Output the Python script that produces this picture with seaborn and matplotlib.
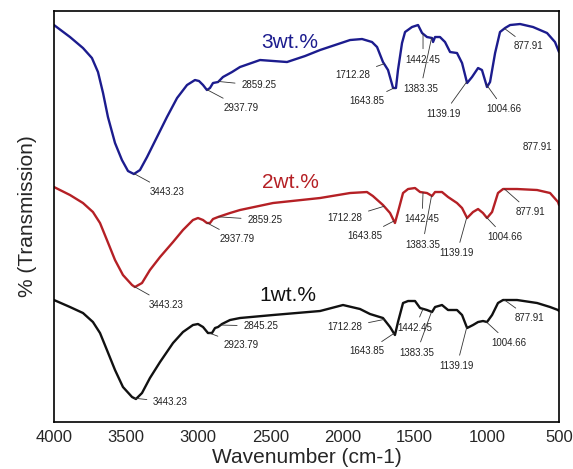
"""
FTIR spectra of 1, 2 and 3 wt.% samples
"""

import matplotlib
matplotlib.use('Agg')
import matplotlib.pyplot as plt
import seaborn as sns
import numpy as np
import pandas as pd

sns.set_style('white')
plt.rcParams['font.family'] = ['Liberation Sans', 'DejaVu Sans']

# Traced spectra (wavenumber, relative transmission)
wn_3 = [4000, 3889, 3799, 3737, 3695, 3660, 3626, 3577, 3529, 3487, 3446, 3404, 3355, 3286,
        3217, 3147, 3078, 3023, 2995, 2967, 2940, 2919, 2898, 2863, 2829, 2766, 2711, 2572,
        2385, 2260, 2156, 2052, 1948, 1865, 1796, 1761, 1720, 1685, 1650, 1630, 1616, 1588,
        1567, 1519, 1477, 1449, 1415, 1380, 1373, 1359, 1325, 1290, 1255, 1207, 1172, 1137,
        1103, 1061, 1034, 999, 978, 943, 909, 874, 839, 770, 680, 583, 528, 500]
t_3 = [397, 385, 374, 364, 350, 329, 305, 279, 262, 251, 248, 252, 265, 285,
       305, 324, 337, 342, 341, 337, 332, 334, 339, 340, 345, 350, 355, 362,
       360, 366, 372, 377, 382, 383, 380, 375, 360, 352, 334, 334, 352, 379,
       390, 395, 397, 389, 385, 384, 380, 385, 385, 380, 370, 369, 359, 339,
       345, 354, 352, 335, 340, 369, 390, 394, 397, 398, 395, 389, 380, 370]

wn_2 = [4000, 3889, 3799, 3730, 3681, 3633, 3577, 3522, 3459, 3439, 3390, 3335, 3265, 3175,
        3106, 3037, 3002, 2967, 2940, 2919, 2898, 2863, 2780, 2711, 2482, 2156, 1948, 1831,
        1790, 1720, 1671, 1637, 1616, 1581, 1546, 1498, 1463, 1415, 1380, 1359, 1311, 1269,
        1207, 1172, 1137, 1096, 1061, 1027, 999, 964, 923, 888, 791, 652, 562, 507, 500]
t_2 = [235, 227, 219, 210, 199, 182, 162, 147, 137, 135, 139, 152, 165, 180,
       192, 202, 204, 202, 199, 199, 203, 205, 209, 212, 219, 224, 229, 230,
       226, 217, 209, 199, 210, 229, 233, 234, 230, 229, 226, 230, 230, 225,
       219, 214, 204, 210, 213, 209, 204, 210, 229, 233, 233, 232, 229, 220, 217]

wn_1 = [4000, 3889, 3799, 3730, 3681, 3633, 3577, 3522, 3459, 3432, 3390, 3335, 3265, 3175,
        3106, 3037, 3002, 2967, 2933, 2905, 2884, 2863, 2836, 2780, 2711, 2482, 2156, 1997,
        1879, 1810, 1720, 1671, 1637, 1616, 1581, 1546, 1498, 1463, 1415, 1380, 1359, 1311,
        1269, 1207, 1172, 1137, 1096, 1061, 1027, 999, 964, 923, 888, 791, 652, 562, 507, 500]
t_1 = [122, 115, 109, 100, 89, 72, 52, 35, 25, 23, 29, 44, 60, 79,
       90, 97, 98, 95, 89, 89, 94, 95, 98, 102, 104, 107, 111, 117,
       113, 108, 104, 95, 87, 100, 119, 121, 121, 114, 112, 110, 115, 117,
       112, 112, 107, 94, 97, 100, 101, 100, 107, 119, 122, 122, 119, 115, 112, 111]

# Peak labels
peaks_3 = [3443.23, 2937.79, 2859.25, 1712.28, 1643.85, 1442.45, 1383.35, 1139.19, 1004.66, 877.91]
peaks_2 = [3443.23, 2937.79, 2859.25, 1712.28, 1643.85, 1442.45, 1383.35, 1139.19, 1004.66, 877.91]
peaks_1 = [3443.23, 2923.79, 2845.25, 1712.28, 1643.85, 1442.45, 1383.35, 1139.19, 1004.66, 877.91]

series_names = ['3wt.%', '2wt.%', '1wt.%']

# label offsets in pixels (text centre relative to the peak on the curve)
offsets_3 = [(33, -18), (34, -18), (40, -4), (-31, -11), (-27, -13),
             (0, -26), (-11, -51), (-23, -32), (18, -25), (24, -18)]
offsets_2 = [(32, -18), (30, -16), (46, -3), (-39, -12), (-29, -15),
             (-1, -27), (-9, -49), (-10, -36), (19, -20), (26, -23)]
offsets_1 = [(36, -4), (32, -12), (40, -1), (-39, -8), (-27, -18),
             (-8, -19), (-15, -41), (-10, -39), (23, -21), (25, -18)]

colors = ['#1c1c8e', '#b52025', '#111111']

fig, ax = plt.subplots(figsize=(5.73, 4.69), dpi=100)
fig.subplots_adjust(left=0.0942, right=0.9756, bottom=0.1002, top=0.9765)

curves = [(wn_3, t_3, peaks_3, offsets_3), (wn_2, t_2, peaks_2, offsets_2),
          (wn_1, t_1, peaks_1, offsets_1)]

for (wn, t, peaks, offs), name, color in zip(curves, series_names, colors):
    df = pd.DataFrame({'wn': wn, 't': t})
    sns.lineplot(data=df, x='wn', y='t', ax=ax, color=color, linewidth=1.7, sort=False)
    wn_sorted = np.array(wn[::-1])
    t_sorted = np.array(t[::-1])
    for p, (dx, dy) in zip(peaks, offs):
        yp = np.interp(p, wn_sorted, t_sorted)
        ax.annotate(f'{p:.2f}', xy=(p, yp), xytext=(dx, dy), textcoords='offset pixels',
                    ha='center', va='center', fontsize=7, color='#222222',
                    arrowprops=dict(arrowstyle='-', color='#333333', lw=0.6,
                                    shrinkA=2, shrinkB=0))

# series names
ax.text(2364, 380, series_names[0], color=colors[0], fontsize=15, ha='center', va='center')
ax.text(2364, 240, series_names[1], color=colors[1], fontsize=15, ha='center', va='center')
ax.text(2378, 127, series_names[2], color=colors[2], fontsize=15, ha='center', va='center')

# stray label
ax.text(652, 275, '877.91', fontsize=7, color='#222222', ha='center', va='center')

ax.set_xlim(4000, 500)
ax.set_ylim(0, 411)
ax.set_xticks([4000, 3500, 3000, 2500, 2000, 1500, 1000, 500])
ax.set_yticks([])
ax.tick_params(axis='x', labelsize=12, length=0, pad=6)
ax.set_xlabel('Wavenumber (cm-1)', fontsize=15, labelpad=2)
ax.set_ylabel('% (Transmission)', fontsize=15, labelpad=12)

for spine in ax.spines.values():
    spine.set_color('black')
    spine.set_linewidth(1.2)

plt.savefig('out.png', dpi=100)
plt.close()
